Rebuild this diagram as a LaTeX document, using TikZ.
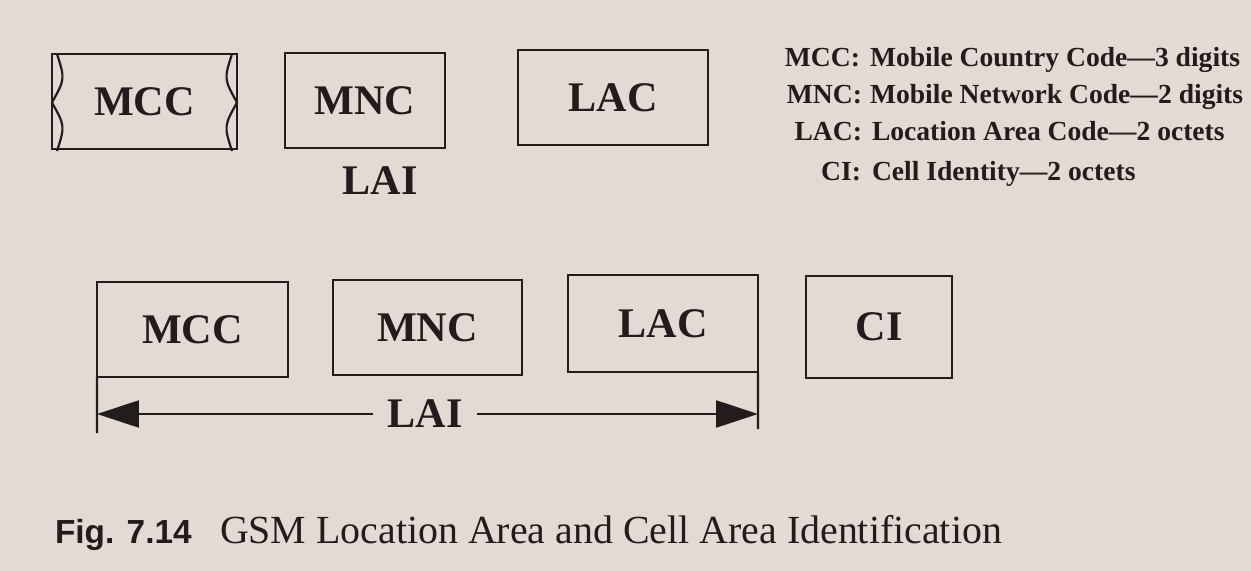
\documentclass[tikz,border=0pt]{standalone}
\usepackage{fontspec}
\setmainfont{Liberation Serif}
\newfontfamily\capsans{Liberation Sans}
\usetikzlibrary{positioning,arrows.meta}
\definecolor{paper}{RGB}{228,218,212}
\definecolor{ink}{RGB}{34,28,28}

\begin{document}
\begin{tikzpicture}
[x=0.02cm,y=-0.02cm,
 every node/.style={text=ink,inner sep=0mm,outer sep=0mm,font=\bfseries\fontsize{24}{28}\selectfont},
 field/.style={draw=ink,line width=1.25pt,minimum height=1.9cm},
 key/.style={anchor=base east,font=\bfseries\fontsize{15.7}{19}\selectfont},
 meaning/.style={anchor=base west,font=\bfseries\fontsize{15.7}{19}\selectfont},
 line width=1.25pt,draw=ink]
\fill[paper] (0,0) rectangle (1251,571);
\useasboundingbox (0,0) rectangle (1251,571);
% top row
\node[field,minimum width=3.7cm] (mccA) at (144.5,101.5) {MCC};
\node[field,minimum width=3.2cm] (mncA) at (365,100.5)   {MNC};
\node[field,minimum width=3.8cm] (lacA) at (613,97.5)    {LAC};
\node (laiA) at (380,181) {LAI};
\draw[shift={(mccA.north west)}] (5,0) .. controls (13,25) .. (0,48.5) .. controls (13,72) .. (5,97);
\draw[shift={(mccA.north east)}] (-5,0) .. controls (-13,25) .. (0,48.5) .. controls (-13,72) .. (-5,97);
% legend
\node[key]     (mccK) at (860,67)  {MCC:};
\node[meaning] (mccD) at (870,67)  {Mobile Country Code---3 digits};
\node[key]     (mncK) at (862,104) {MNC:};
\node[meaning] (mncD) at (870,104) {Mobile Network Code---2 digits};
\node[key]     (lacK) at (862,140) {LAC:};
\node[meaning] (lacD) at (872,140) {Location Area Code---2 octets};
\node[key]     (ciK)  at (861,180) {CI:};
\node[meaning] (ciD)  at (872,180) {Cell Identity---2 octets};
% bottom row
\node[field,minimum width=3.82cm] (mccB) at (192.5,329.5) {MCC};
\node[field,minimum width=3.78cm] (mncB) at (427.5,327.5) {MNC};
\node[field,minimum width=3.8cm,minimum height=1.94cm] (lacB) at (663,323.5) {LAC};
\node[field,minimum width=2.92cm,minimum height=2.04cm] (ciB) at (879,327) {CI};
\coordinate (laiL) at (97,433);
\coordinate (laiR) at (758,429);
\draw (mccB.south west) -- (laiL);
\draw (lacB.south east) -- (laiR);
\node[fill=paper,inner xsep=3mm] (laiB) at (425,414) {LAI};
\draw[-{Triangle[length=8.4mm,width=5.4mm]}] (laiB) -- (laiL |- laiB);
\draw[-{Triangle[length=8.4mm,width=5.4mm]}] (laiB) -- (laiR |- laiB);
% caption
\node[anchor=base west,font=\capsans\bfseries\fontsize{19}{23}\selectfont] (figno) at (55,543) {Fig. 7.14};
\node[anchor=base west,font=\mdseries\fontsize{22.7}{27}\selectfont] (figtext) at (220,543) {GSM Location Area and Cell Area Identification};
\end{tikzpicture}
\end{document}
